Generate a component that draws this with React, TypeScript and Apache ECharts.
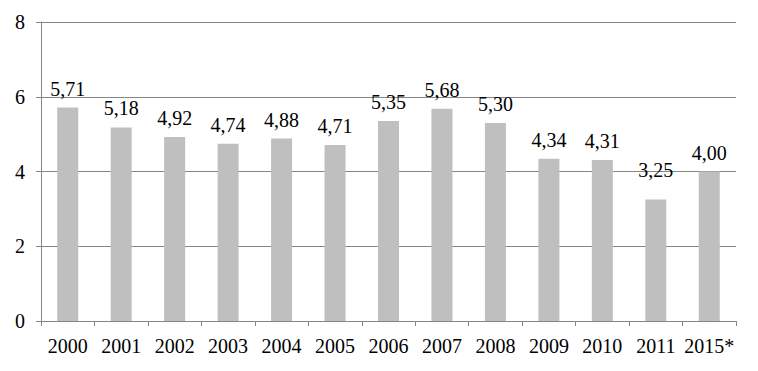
import React, { useEffect, useRef } from "react";
import * as echarts from "echarts";

const categories = ["2000", "2001", "2002", "2003", "2004", "2005", "2006", "2007", "2008", "2009", "2010", "2011", "2015*"];
const values = [5.71, 5.18, 4.92, 4.74, 4.88, 4.71, 5.35, 5.68, 5.30, 4.34, 4.31, 3.25, 4.00];

const FONT = "'Liberation Serif', 'Times New Roman', serif";
const AXIS = "#868686";

export default function App() {
  const ref = useRef<HTMLDivElement>(null);
  useEffect(() => {
    if (!ref.current) return;
    const chart = echarts.init(ref.current, null, { renderer: "svg" });
    chart.setOption({
      animation: false,
      grid: { left: 41, right: 22, top: 22, bottom: 50, containLabel: false },
      xAxis: {
        type: "category",
        data: categories,
        axisLine: { show: true, lineStyle: { color: AXIS, width: 1 } },
        axisTick: { show: true, alignWithLabel: false, interval: 0, length: 5, lineStyle: { color: AXIS } },
        axisLabel: { color: "#000", fontFamily: FONT, fontSize: 20, margin: 15, interval: 0 },
      },
      yAxis: {
        type: "value",
        min: 0,
        max: 8,
        interval: 2,
        axisLine: { show: true, lineStyle: { color: AXIS, width: 1 } },
        axisTick: { show: true, length: 5, lineStyle: { color: AXIS } },
        splitLine: { show: true, lineStyle: { color: AXIS, width: 1 } },
        axisLabel: { color: "#000", fontFamily: FONT, fontSize: 20, margin: 16 },
      },
      series: [
        {
          type: "bar",
          data: values.map((v, i) =>
            i === 11 ? { value: v, label: { distance: 20 } } : v
          ),
          barWidth: 21,
          itemStyle: { color: "#bfbfbf" },
          label: {
            show: true,
            position: "top",
            distance: 9,
            color: "#000",
            fontFamily: FONT,
            fontSize: 20,
            formatter: (p: any) => Number(p.value).toFixed(2).replace(".", ","),
          },
        },
      ],
    });
    return () => chart.dispose();
  }, []);
  return <div ref={ref} style={{ width: 758, height: 371, position: "absolute", left: 0, top: 0 }} />;
}
